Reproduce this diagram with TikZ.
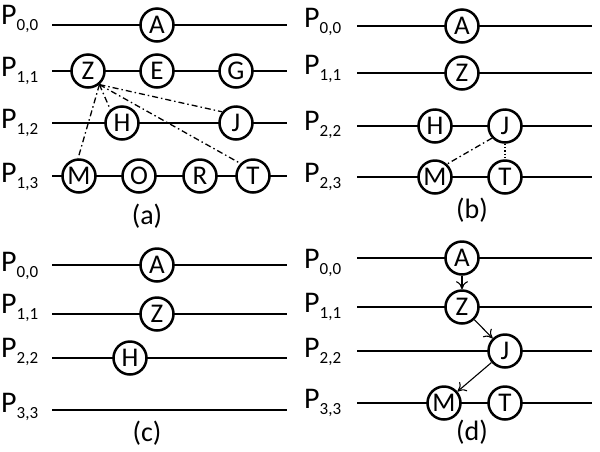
\documentclass[tikz,border=0pt]{standalone}
\usepackage{fontspec}
\setmainfont{Carlito}
\usetikzlibrary{arrows.meta}
\tikzset{>={To[length=8pt,width=12pt]}}
\tikzset{vtx/.style={circle,draw,fill=white,line width=2.5pt,minimum size=33pt,
    inner sep=0pt,font=\fontsize{27}{27}\selectfont}}
\tikzset{rail/.style={line width=1.4pt}}
\tikzset{plabel/.style={anchor=base west,inner sep=0pt}}
\tikzset{caption/.style={font=\fontsize{28}{28}\selectfont}}
\tikzset{dashdot/.style={line width=1.3pt,dash pattern=on 6pt off 3pt on 1.5pt off 3pt}}
\newcommand{\plab}[1]{{\fontsize{30}{30}\selectfont P}\raisebox{-6.5pt}{\fontsize{17}{17}\selectfont #1}}

\begin{document}
\begin{tikzpicture}[x=1pt,y=-1pt]
    \useasboundingbox (0,0) rectangle (600,451);

    \node [plabel] (pa0) at (1, 24) {\plab{0,0}};
    \node [plabel] (pa1) at (1, 76) {\plab{1,1}};
    \node [plabel] (pa2) at (1, 128) {\plab{1,2}};
    \node [plabel] (pa3) at (1, 182) {\plab{1,3}};

    \draw [rail] (52, 25) -- (287, 25);
    \draw [rail] (52, 71) -- (287, 71);
    \draw [rail] (52, 123) -- (287, 123);
    \draw [rail] (52, 176) -- (287, 176);

    \node [vtx] (aa) at (157, 25) {A};
    \node [vtx] (za) at (88, 71) {Z};
    \node [vtx] (ea) at (157, 71) {E};
    \node [vtx] (ga) at (236, 71) {G};
    \node [vtx] (ha) at (122, 123) {H};
    \node [vtx] (ja) at (236, 123) {J};
    \node [vtx] (ma) at (79, 176) {M};
    \node [vtx] (oa) at (139, 176) {O};
    \node [vtx] (ra) at (200, 176) {R};
    \node [vtx] (ta) at (253, 176) {T};

    \draw [dashdot] (za.-50) -- (ma.93);
    \draw [dashdot] (za.-50) -- (ha.131);
    \draw [dashdot] (za.-50) -- (ja.141);
    \draw [dashdot] (za.-50) -- (ta.135);

    \node [caption] (capa) at (147, 216) {(a)};

    \node [plabel] (pb0) at (304, 27) {\plab{0,0}};
    \node [plabel] (pb1) at (304, 74) {\plab{1,1}};
    \node [plabel] (pb2) at (304, 130) {\plab{2,2}};
    \node [plabel] (pb3) at (304, 182) {\plab{2,3}};

    \draw [rail] (357, 26) -- (592, 26);
    \draw [rail] (357, 73) -- (592, 73);
    \draw [rail] (357, 126) -- (592, 126);
    \draw [rail] (357, 177) -- (592, 177);

    \node [vtx] (ab) at (462, 26) {A};
    \node [vtx] (zb) at (462, 73) {Z};
    \node [vtx] (hb) at (435, 126) {H};
    \node [vtx] (jb) at (505, 126) {J};
    \node [vtx] (mb) at (435, 177) {M};
    \node [vtx] (tb) at (505, 177) {T};

    \draw [dashdot] (jb.223) -- (mb.47);
    \draw [dotted,line width=1.3pt] (jb.south) -- (tb.north);

    \node [caption] (capb) at (472, 210) {(b)};

    \node [plabel] (pc0) at (1, 271) {\plab{0,0}};
    \node [plabel] (pc1) at (1, 313) {\plab{1,1}};
    \node [plabel] (pc2) at (1, 357) {\plab{2,2}};
    \node [plabel] (pc3) at (1, 412) {\plab{3,3}};

    \draw [rail] (52, 265) -- (287, 265);
    \draw [rail] (52, 314) -- (287, 314);
    \draw [rail] (52, 358) -- (287, 358);
    \draw [rail] (52, 410) -- (287, 410);

    \node [vtx] (ac) at (157, 265) {A};
    \node [vtx] (zc) at (157, 314) {Z};
    \node [vtx] (hc) at (130, 358) {H};

    \node [caption] (capc) at (147, 433) {(c)};

    \node [plabel] (pd0) at (304, 268) {\plab{0,0}};
    \node [plabel] (pd1) at (304, 312) {\plab{1,1}};
    \node [plabel] (pd2) at (304, 357) {\plab{2,2}};
    \node [plabel] (pd3) at (304, 408) {\plab{3,3}};

    \draw [rail] (357, 258) -- (592, 258);
    \draw [rail] (357, 307) -- (592, 307);
    \draw [rail] (357, 351) -- (592, 351);
    \draw [rail] (357, 403) -- (592, 403);

    \node [vtx] (ad) at (462, 258) {A};
    \node [vtx] (zd) at (462, 307) {Z};
    \node [vtx] (jd) at (505, 351) {J};
    \node [vtx] (md) at (444, 403) {M};
    \node [vtx] (td) at (505, 403) {T};

    \draw [->,line width=1.1pt] (ad) -- (zd);
    \draw [->,line width=1.1pt] (zd) -- (jd);
    \draw [->,line width=1.1pt] (jd) -- (md);

    \node [caption] (capd) at (472, 432) {(d)};
  \end{tikzpicture}
\end{document}
